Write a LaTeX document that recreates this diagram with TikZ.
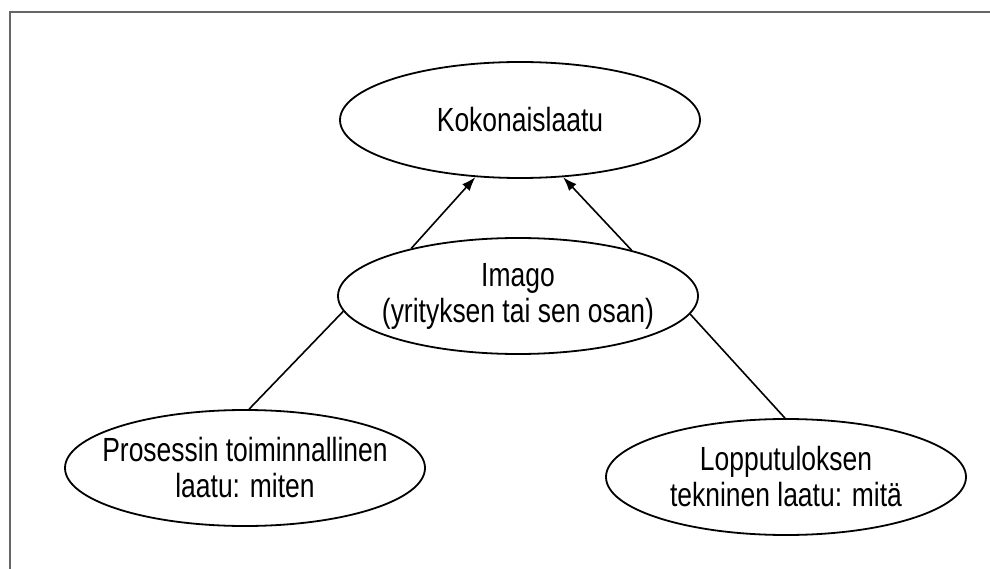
\documentclass[tikz,border=0pt]{standalone}
\usepackage{fontspec}
\setmainfont{Liberation Sans}[FakeStretch=0.79]
\usetikzlibrary{shapes.geometric,arrows.meta}
\tikzset{
  oval/.style={ellipse, draw=black, line width=1.8pt, minimum width=360pt, minimum height=116pt, inner sep=0pt},
  ovaltext/.style={align=center, inner sep=0pt, font=\fontsize{33.5}{36}\selectfont},
  link/.style={draw=black, line width=1.6pt},
  arr/.style={link, -{Latex[length=14pt,width=10pt]}},
  frame/.style={draw=black!60, line width=2pt}
}
\begin{document}
\begin{tikzpicture}[x=1pt,y=-1pt]
\useasboundingbox (0,0) rectangle (990,569);
\draw[frame] (10,569) -- (10,12) -- (990,12);
\node[oval] (koko) at (520,120) {};
\node[ovaltext] (kokot) at (koko.center) {Kokonaislaatu};
\node[oval] (imago) at (518,296) {};
\node[ovaltext] (imagot) at (imago.center) {Imago\\(yrityksen tai sen osan)};
\node[oval] (pros) at (245,468) {};
\node[ovaltext] (prost) at (pros.center) {Prosessin toiminnallinen\\laatu: miten};
\node[oval] (lopp) at (786,477) {};
\node[ovaltext] (loppt) at (lopp.center) {Lopputuloksen\\tekninen laatu: mitä};
\draw[arr] (imago.156) -- (koko.232);
\draw[arr] (imago.22) -- (koko.307);
\draw[link] (imago.185) -- (pros.86);
\draw[link] (imago.354) -- (lopp.91);
\end{tikzpicture}
\end{document}
